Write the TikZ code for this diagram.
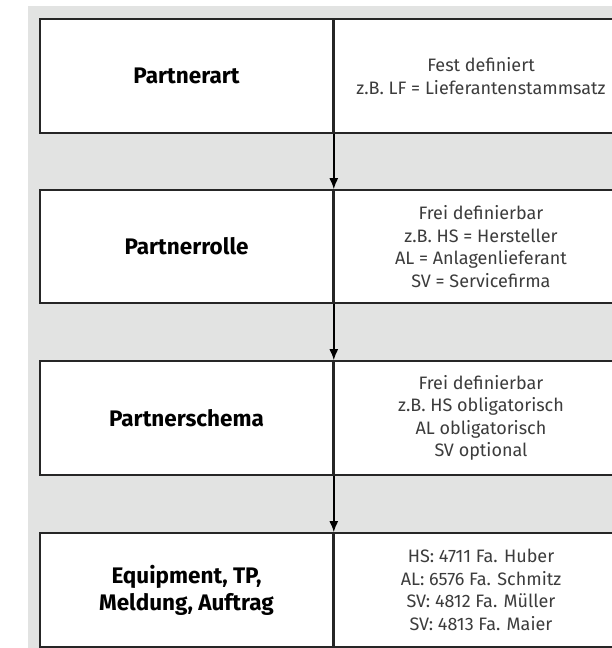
\documentclass[tikz,border=0pt]{standalone}
\usepackage{fontspec}
\setmainfont{Fira Sans}
\usetikzlibrary{arrows.meta}
\definecolor{bggray}{HTML}{E2E3E2}
\definecolor{txtgray}{HTML}{3C3C3C}
\definecolor{linegray}{HTML}{262626}
\begin{document}
\begin{tikzpicture}[x=1pt,y=1pt,
  cellL/.style={draw=linegray, line width=1.6pt, fill=white, minimum width=293pt, inner sep=0pt, align=center, font=\fontsize{22.5}{27}\selectfont\bfseries, text=black},
  cellR/.style={draw=linegray, line width=1.6pt, fill=white, minimum width=293pt, inner sep=0pt, align=center, font=\fontsize{18}{22.5}\selectfont, text=txtgray},
  flow/.style={-{Latex[length=11pt,width=9pt]}, line width=1.6pt, black}]
\useasboundingbox (0,0) rectangle (612,648);
\clip (0,0) rectangle (612,648);
\fill[bggray] (28,0) rectangle (612,642);
% row 1
\node[cellL, minimum height=114pt] (l1) at (186.5,572) {Partnerart};
\node[cellR, minimum height=114pt] (r1) at (481,572) {Fest definiert\\z.B. LF = Lieferantenstammsatz};
% row 2
\node[cellL, minimum height=113pt] (l2) at (186.5,401.5) {Partnerrolle};
\node[cellR, minimum height=113pt] (r2) at (481,401.5) {Frei definierbar\\z.B. HS = Hersteller\\AL = Anlagenlieferant\\SV = Servicefirma};
% row 3
\node[cellL, minimum height=114pt] (l3) at (186.5,230) {Partnerschema};
\node[cellR, minimum height=114pt] (r3) at (481,230) {Frei definierbar\\z.B. HS obligatorisch\\AL obligatorisch\\SV optional};
% row 4
\node[cellL, minimum height=114pt] (l4) at (186.5,58) {Equipment, TP,\\Meldung, Auftrag};
\node[cellR, minimum height=114pt] (r4) at (481,58) {HS: 4711 Fa. Huber\\AL: 6576 Fa. Schmitz\\SV: 4812 Fa. Müller\\SV: 4813 Fa. Maier};
% arrows
\draw[flow] (l1.south east) -- (l2.north east);
\draw[flow] (l2.south east) -- (l3.north east);
\draw[flow] (l3.south east) -- (l4.north east);
\end{tikzpicture}
\end{document}
